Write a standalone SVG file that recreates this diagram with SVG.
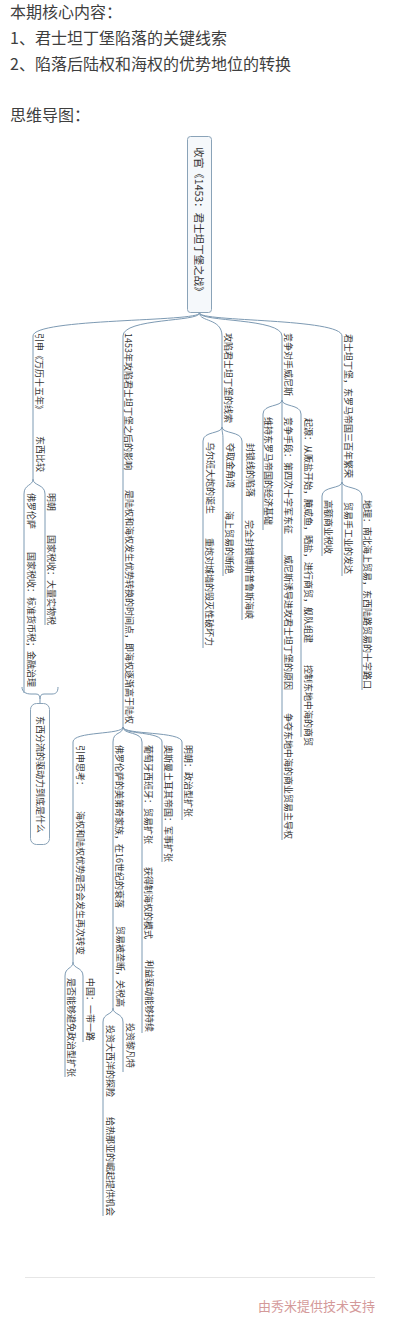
<svg xmlns="http://www.w3.org/2000/svg" width="400" height="1343" viewBox="0 0 400 1343">
<style>
.h{font-family:"Noto Sans CJK SC","Noto Sans",sans-serif;font-size:16px;fill:#3e3e3e}
.t{font-family:"Noto Sans CJK SC","Noto Sans",sans-serif;font-size:9px;fill:#333;dominant-baseline:central}
.rt{font-family:"Noto Sans CJK SC","Noto Sans",sans-serif;font-size:10.5px;fill:#333;dominant-baseline:central;text-anchor:middle}
.ln{fill:none;stroke:#7d9ab3;stroke-width:1}
.box{fill:#f5f8fb;stroke:#8aa3b8;stroke-width:1}
.foot{font-family:"Noto Sans CJK SC","Noto Sans",sans-serif;font-size:13px;fill:#d49a9a;text-anchor:end}
</style>
<rect width="400" height="1343" fill="#fff"/>
<g id="header">
<text class="h" x="10" y="18">本期核心内容：</text>
<text class="h" x="10" y="44">1、君士坦丁堡陷落的关键线索</text>
<text class="h" x="10" y="70">2、陷落后陆权和海权的优势地位的转换</text>
<text class="h" x="10" y="121">思维导图：</text>
</g>
<g id="connectors">
<path class="ln" d="M199.5,313 C199.5,322 33,318 33,336 V479"/>
<path class="ln" d="M33,479 C33,486 24,484 24,494 V693"/>
<path class="ln" d="M33,479 C33,486 45,484 45,494 V625"/>
<path class="ln" d="M22,687 C22,692 26,694 31,694 L36,694 C39,694 40,696 40,699 C40,696 41,694 44,694 L52,694 C56,694 58,692 58,687"/>
<path class="ln" d="M40,699 V703"/>
<path class="ln" d="M199.5,313 C199.5,322 123,318 123,336 V727"/>
<path class="ln" d="M123,727 C123,735 73,731 73,742 V962"/>
<path class="ln" d="M73,962 C73,969 83,967 83,976 V1042"/>
<path class="ln" d="M73,962 C73,969 65,967 65,976 V1077"/>
<path class="ln" d="M123,727 C123,735 113,731 113,742 V1008"/>
<path class="ln" d="M113,1008 C113,1015 123,1013 123,1022 V1072"/>
<path class="ln" d="M113,1008 C113,1015 103,1013 103,1022 V1216"/>
<path class="ln" d="M123,727 C123,735 142,731 142,742 V1033"/>
<path class="ln" d="M123,727 C123,735 162,731 162,742 V862"/>
<path class="ln" d="M123,727 C123,735 182,731 182,742 V820"/>
<path class="ln" d="M199.5,313 C199.5,322 222,318 222,336 V427"/>
<path class="ln" d="M222,427 C222,434 203,431 203,441 V648"/>
<path class="ln" d="M222,427 C222,434 223,431 223,441 V576"/>
<path class="ln" d="M222,427 C222,434 242,431 242,441 V620"/>
<path class="ln" d="M199.5,313 C199.5,322 282,318 282,336 V400"/>
<path class="ln" d="M282,400 C282,407 263,404 263,414 V530"/>
<path class="ln" d="M282,400 V840"/>
<path class="ln" d="M282,400 C282,407 301,404 301,414 V737"/>
<path class="ln" d="M199.5,313 C199.5,322 342,318 342,336 V482"/>
<path class="ln" d="M342,482 C342,489 322,486 322,496 V556"/>
<path class="ln" d="M342,482 V576"/>
<path class="ln" d="M342,482 C342,489 362,486 362,496 V690"/>
</g>
<g id="root">
<rect class="box" x="187.5" y="136.5" width="24" height="176" rx="3"/>
<text class="rt" transform="translate(199.5,222) rotate(90)">收官《1453：君士坦丁堡之战》</text>
</g>
<g id="node-a1"><text class="t" transform="translate(39,333) rotate(90)">引申《万历十五年》</text></g>
<g id="node-a2"><text class="t" transform="translate(40,436) rotate(90)">东西比较</text></g>
<g id="node-a3"><text class="t" transform="translate(51,493) rotate(90)">明朝</text></g>
<g id="node-a4"><text class="t" transform="translate(51,535) rotate(90)">国家税收：大量实物税</text></g>
<g id="node-a5"><text class="t" transform="translate(31,493) rotate(90)">佛罗伦萨</text></g>
<g id="node-a6"><text class="t" transform="translate(31,552) rotate(90)">国家税收：标准货币税；金融治理</text></g>
<g id="summary">
<rect x="30.5" y="703.5" width="19" height="141" rx="6" fill="#fff" stroke="#8aa3b8"/>
<text class="t" transform="translate(40,716) rotate(90)">东西分流的驱动力到底是什么</text>
</g>
<g id="node-b1"><text class="t" transform="translate(128,333) rotate(90)">1453年攻陷君士坦丁堡之后的影响</text></g>
<g id="node-b2"><text class="t" transform="translate(129,490) rotate(90)">是陆权和海权发生优势转换的时间点，即海权逐渐高于陆权</text></g>
<g id="node-b3"><text class="t" transform="translate(188,745) rotate(90)">明朝：政治型扩张</text></g>
<g id="node-b4"><text class="t" transform="translate(168,745) rotate(90)">奥斯曼土耳其帝国：军事扩张</text></g>
<g id="node-b5"><text class="t" transform="translate(148,745) rotate(90)">葡萄牙西班牙：贸易扩张</text></g>
<g id="node-b5a"><text class="t" transform="translate(148,867) rotate(90)">获得制海权的模式</text></g>
<g id="node-b5b"><text class="t" transform="translate(149,960) rotate(90)">利益驱动能够持续</text></g>
<g id="node-b6"><text class="t" transform="translate(119,745) rotate(90)">佛罗伦萨的美第奇家族，在16世纪的衰落</text></g>
<g id="node-b6a"><text class="t" transform="translate(120,926) rotate(90)">贸易被垄断，关税高</text></g>
<g id="node-b6b"><text class="t" transform="translate(130,1023) rotate(90)">投资黎凡特</text></g>
<g id="node-b6c"><text class="t" transform="translate(110,1025) rotate(90)">投资大西洋的探险</text></g>
<g id="node-b6d"><text class="t" transform="translate(110,1117) rotate(90)">给热那亚的崛起提供机会</text></g>
<g id="node-b7"><text class="t" transform="translate(80,745) rotate(90)">引申思考：</text></g>
<g id="node-b7a"><text class="t" transform="translate(80,811) rotate(90)">海权和陆权优势是否会发生再次转变</text></g>
<g id="node-b7b"><text class="t" transform="translate(90,978) rotate(90)">中国：一带一路</text></g>
<g id="node-b7c"><text class="t" transform="translate(71,978) rotate(90)">是否能够避免政治型扩张</text></g>
<g id="node-c1"><text class="t" transform="translate(228,333) rotate(90)">攻陷君士坦丁堡的线索</text></g>
<g id="node-c2"><text class="t" transform="translate(210,442) rotate(90)">乌尔班大炮的诞生</text></g>
<g id="node-c3"><text class="t" transform="translate(209,538) rotate(90)">重炮对城墙的毁灭性破坏力</text></g>
<g id="node-c4"><text class="t" transform="translate(230,443) rotate(90)">夺取金角湾</text></g>
<g id="node-c5"><text class="t" transform="translate(229,511) rotate(90)">海上贸易的断绝</text></g>
<g id="node-c6"><text class="t" transform="translate(250,443) rotate(90)">封锁线的陷落</text></g>
<g id="node-c7"><text class="t" transform="translate(249,520) rotate(90)">完全封锁博斯普鲁斯海峡</text></g>
<g id="node-d1"><text class="t" transform="translate(288,333) rotate(90)">竞争对手威尼斯</text></g>
<g id="node-d2"><text class="t" transform="translate(268,417) rotate(90)">维持东罗马帝国的经济基础</text></g>
<g id="node-d3"><text class="t" transform="translate(288,417) rotate(90)">竞争手段：第四次十字军东征</text></g>
<g id="node-d4"><text class="t" transform="translate(288,555) rotate(90)">威尼斯诱导进攻君士坦丁堡的原因</text></g>
<g id="node-d5"><text class="t" transform="translate(288,713) rotate(90)">争夺东地中海的商业贸易主导权</text></g>
<g id="node-d6"><text class="t" transform="translate(308,418) rotate(90)">起源：从贩盐开始，腌咸鱼，晒盐，进行商贸，舰队组建</text></g>
<g id="node-d7"><text class="t" transform="translate(308,665) rotate(90)">控制东地中海的商贸</text></g>
<g id="node-e1"><text class="t" transform="translate(348,334) rotate(90)">君士坦丁堡，东罗马帝国三百年繁荣</text></g>
<g id="node-e2"><text class="t" transform="translate(328,500) rotate(90)">高额商业税收</text></g>
<g id="node-e3"><text class="t" transform="translate(348,502) rotate(90)">贸易手工业的发达</text></g>
<g id="node-e4"><text class="t" transform="translate(367,500) rotate(90)">地理：南北海上贸易，东西陆路贸易的十字路口</text></g>
<g id="footer">
<line x1="25" y1="1277.5" x2="375" y2="1277.5" stroke="#e6e6e6" stroke-width="1"/>
<text class="foot" x="375" y="1311">由秀米提供技术支持</text>
</g>
</svg>
